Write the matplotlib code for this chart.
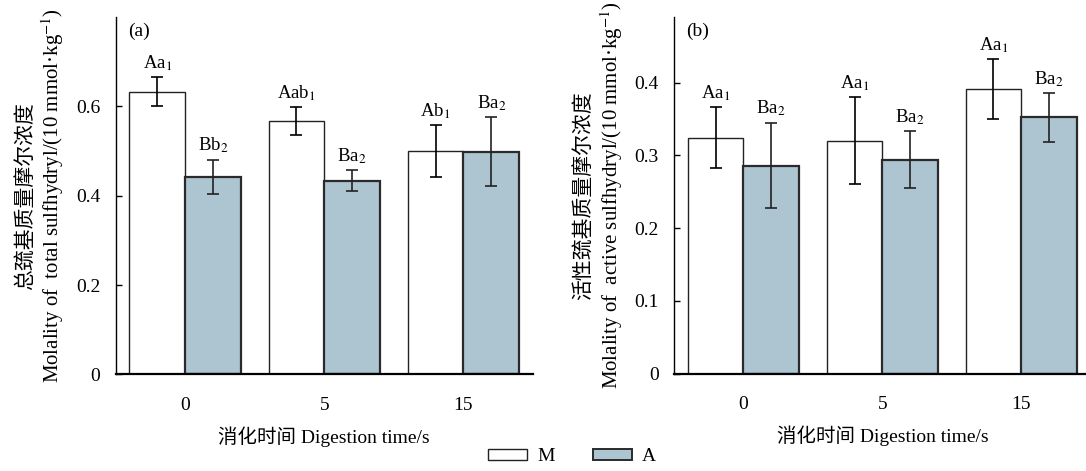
import matplotlib
matplotlib.use("Agg")
import matplotlib.pyplot as plt
from matplotlib.patches import Patch
import numpy as np

plt.rcParams['font.family'] = ['Liberation Serif', 'Noto Sans CJK SC']
plt.rcParams['mathtext.fontset'] = 'stix'

times = ["0", "5", "15"]

# (a) total sulfhydryl
total_M = [0.633, 0.567, 0.501]
total_M_err = [0.032, 0.031, 0.058]
total_A = [0.443, 0.434, 0.499]
total_A_err = [0.038, 0.024, 0.077]
total_M_lab = ["Aa$_1$", "Aab$_1$", "Ab$_1$"]
total_A_lab = ["Bb$_2$", "Ba$_2$", "Ba$_2$"]

# (b) active sulfhydryl
active_M = [0.324, 0.320, 0.391]
active_M_err = [0.042, 0.060, 0.041]
active_A = [0.286, 0.294, 0.352]
active_A_err = [0.059, 0.039, 0.034]
active_M_lab = ["Aa$_1$", "Aa$_1$", "Aa$_1$"]
active_A_lab = ["Ba$_2$", "Ba$_2$", "Ba$_2$"]

fill_A = "#adc4d1"
fs = 14

fig = plt.figure(figsize=(10.86, 4.71), dpi=100)
ax1 = fig.add_axes([0.1064, 0.2049, 0.3844, 0.759])
ax2 = fig.add_axes([0.6206, 0.2066, 0.3837, 0.7573])

def panel(ax, mv, me, av, ae, ml, al, ylim, yticks, ylab, tag):
    x = np.arange(len(times))
    w = 0.4
    ax.bar(x - w/2, mv, w, color="white", edgecolor="#222222", linewidth=1.0, zorder=2)
    ax.bar(x + w/2, av, w, color=fill_A, edgecolor="#2a2a2a", linewidth=1.6, zorder=2)
    ax.errorbar(x - w/2, mv, yerr=me, fmt="none", ecolor="black", elinewidth=1.2,
                capsize=4, capthick=1.2, zorder=3)
    ax.errorbar(x + w/2, av, yerr=ae, fmt="none", ecolor="#222222", elinewidth=1.2,
                capsize=4, capthick=1.2, zorder=3)
    for i in range(len(times)):
        ax.annotate(ml[i], (x[i] - w/2, mv[i] + me[i]), xytext=(0, 3),
                    textcoords="offset points", ha="center", va="bottom", fontsize=13.5)
        ax.annotate(al[i], (x[i] + w/2, av[i] + ae[i]), xytext=(0, 3),
                    textcoords="offset points", ha="center", va="bottom", fontsize=13.5)
    ax.set_xlim(-0.5, 2.5)
    ax.set_ylim(*ylim)
    ax.set_yticks(yticks)
    ax.set_yticklabels([("0" if t == 0 else f"{t:.1f}") for t in yticks])
    ax.set_xticks(x)
    ax.set_xticklabels(times)
    ax.spines["top"].set_visible(False)
    ax.spines["right"].set_visible(False)
    ax.spines["left"].set_linewidth(1.0)
    ax.spines["bottom"].set_linewidth(1.6)
    ax.tick_params(axis="y", direction="in", length=4, width=1.0, pad=11, labelsize=fs)
    ax.tick_params(axis="x", length=0, pad=16, labelsize=fs)
    ax.set_xlabel("消化时间 Digestion time/s", fontsize=fs, labelpad=9)
    ax.set_ylabel(ylab, fontsize=15, labelpad=7, linespacing=1.15)
    ax.text(0.03, 0.985, tag, transform=ax.transAxes, ha="left", va="top", fontsize=fs)

panel(ax1, total_M, total_M_err, total_A, total_A_err, total_M_lab, total_A_lab,
      (0, 0.8), [0, 0.2, 0.4, 0.6],
      "总巯基质量摩尔浓度\nMolality of  total sulfhydryl/(10 mmol·kg$^{-1}$)", "(a)")
panel(ax2, active_M, active_M_err, active_A, active_A_err, active_M_lab, active_A_lab,
      (0, 0.49), [0, 0.1, 0.2, 0.3, 0.4],
      "活性巯基质量摩尔浓度\nMolality of  active sulfhydryl/(10 mmol·kg$^{-1}$)", "(b)")

handles = [Patch(facecolor="white", edgecolor="#222222", linewidth=1.0),
           Patch(facecolor=fill_A, edgecolor="#2a2a2a", linewidth=1.4)]
fig.legend(handles, ["M", "A"], loc="center", bbox_to_anchor=(0.527, 0.03),
           ncol=2, frameon=False, fontsize=fs, handlelength=2.0, handleheight=0.5,
           columnspacing=2.0, handletextpad=0.5)

fig.savefig("out.png", dpi=100)
